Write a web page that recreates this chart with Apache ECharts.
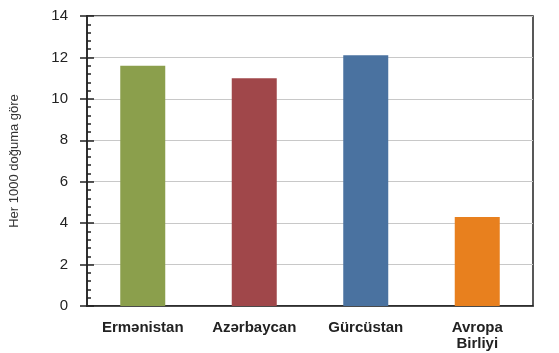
<!DOCTYPE html>
<html>
<head>
<meta charset="utf-8">
<script src="https://cdn.jsdelivr.net/npm/echarts@6/dist/echarts.min.js"></script>
<style>
  html, body { margin: 0; padding: 0; background: #fff; }
  #main { width: 559px; height: 353px; }
</style>
</head>
<body>
<div id="main"></div>
<script>
  // Categories and values
  var categories = ["Ermənistan", "Azərbaycan", "Gürcüstan", "Avropa\nBirliyi"];
  var values = [11.6, 11.0, 12.1, 4.3];
  var barColors = ["#8B9F4C", "#A0474A", "#4A72A0", "#E8801E"];
  var yTicks = [0, 2, 4, 6, 8, 10, 12, 14];

  var chartDom = document.getElementById("main");
  var myChart = echarts.init(chartDom);
  var option;

  var font = "Liberation Sans, Arial, sans-serif";

  option = {
    animation: false,
    grid: {
      left: 86,
      right: 26,
      top: 16,
      bottom: 47,
      show: true,
      borderColor: "#222",
      borderWidth: 1.5,
    },
    xAxis: {
      type: "category",
      data: categories,
      axisLine: { lineStyle: { color: "#222", width: 1.5 } },
      axisTick: { show: false },
      axisLabel: {
        margin: 14,
        fontFamily: font,
        fontWeight: "bold",
        fontSize: 15,
        lineHeight: 16,
        color: "#222",
      },
    },
    yAxis: [
      {
        type: "value",
        min: yTicks[0],
        max: yTicks[yTicks.length - 1],
        interval: 2,
        name: "Her 1000 doğuma göre",
        nameLocation: "middle",
        nameGap: 66,
        nameTextStyle: {
          fontFamily: font,
          fontSize: 13,
          color: "#333",
        },
        axisLine: { show: true, lineStyle: { color: "#222", width: 1.5 } },
        axisTick: { show: true, length: 7, lineStyle: { color: "#222", width: 1.5 } },
        axisLabel: {
          margin: 19,
          fontFamily: font,
          fontSize: 15,
          color: "#222",
        },
        splitLine: { lineStyle: { color: "#c8c8c8", width: 1.2 } },
      },
      {
        // same scale, only used for the inner major and minor ticks
        type: "value",
        position: "left",
        min: yTicks[0],
        max: yTicks[yTicks.length - 1],
        interval: 2,
        axisLine: { show: false },
        axisTick: { show: true, inside: true, length: 7, lineStyle: { color: "#222", width: 1.5 } },
        minorTick: { show: true, splitNumber: 5, length: 4, lineStyle: { color: "#222", width: 1.5 } },
        axisLabel: { show: false },
        splitLine: { show: false },
      },
    ],
    series: [
      {
        type: "bar",
        data: values,
        barWidth: 45,
        itemStyle: {
          color: function (params) {
            return barColors[params.dataIndex % barColors.length];
          },
        },
      },
    ],
  };

  option && myChart.setOption(option);
</script>
</body>
</html>
